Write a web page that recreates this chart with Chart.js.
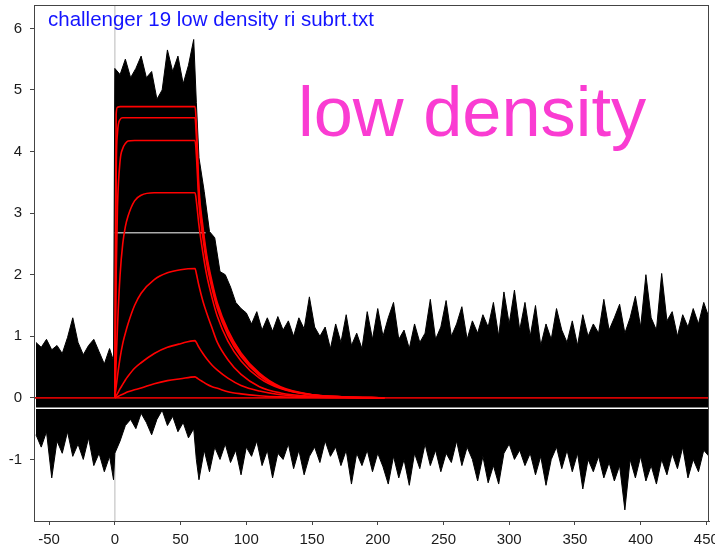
<!DOCTYPE html>
<html>
<head>
<meta charset="utf-8">
<script src="https://cdn.jsdelivr.net/npm/chart.js@4.4.1/dist/chart.umd.min.js"></script>
<style>
  body { margin: 0; background: #fff; }
  #wrap { position: relative; width: 715px; height: 550px; }
  .lbl { position: absolute; white-space: nowrap; font-family: "Liberation Sans", Arial, sans-serif; line-height: 1; }
  #file { left: 48px; top: 9px; font-size: 20.5px; color: #1414ff; }
  #big { left: 298px; top: 77px; font-size: 70.4px; color: #fa3cd2; }
</style>
</head>
<body>
<div id="wrap">
  <canvas id="chart" width="715" height="550"></canvas>
  <div class="lbl" id="file">challenger 19 low density ri subrt.txt</div>
  <div class="lbl" id="big">low density</div>
</div>
<script>
// time axis of the noisy sensorgram envelope (s)
const tNoise = [-60,-56,-52,-48,-44,-40,-36,-32,-28,-24,-20,-16,-12,-8,-4,-1,
  0,4,8,12,16,20,24,28,32,36,40,44,48,52,56,60,
  62,
  64,68,72,76,80,84,88,92,96,100,104,108,112,116,120,124,128,132,136,140,
  144,148,152,156,160,164,168,172,176,180,184,188,192,196,200,204,208,212,216,220,
  224,228,232,236,240,244,248,252,256,260,264,268,272,276,280,284,288,292,296,300,
  304,308,312,316,320,324,328,332,336,340,344,348,352,356,360,364,368,372,376,380,
  384,388,392,396,400,404,408,412,416,420,424,428,432,436,440,444,448,452];

// upper edge of the overlaid traces
const noiseTop = [0.9,0.82,0.95,0.78,0.85,0.72,0.98,1.3,0.9,0.7,0.85,0.95,0.75,0.55,0.8,0.6,
  5.35,5.25,5.5,5.2,5.35,5.55,5.2,5.3,4.85,5.0,5.65,5.3,5.55,5.1,5.4,5.82,
  4.8,
  3.9,3.35,2.7,2.6,2.05,2.0,1.8,1.55,1.45,1.38,
  1.2,1.4,1.1,1.3,1.08,1.32,1.1,1.25,1.0,1.3,
  1.12,1.64,1.15,1.0,1.15,0.8,1.2,0.9,1.35,0.85,
  1.05,0.8,1.4,0.95,1.45,1.0,1.3,1.55,0.95,1.1,
  0.8,1.2,0.9,1.05,1.6,0.95,1.15,1.58,1.0,1.2,
  1.48,0.95,1.25,1.05,1.35,1.15,1.55,1.0,1.72,1.2,
  1.75,1.1,1.55,1.0,1.5,0.85,1.2,0.95,1.45,1.1,
  0.9,1.25,0.85,1.35,1.0,1.2,1.05,1.6,1.1,1.3,
  1.52,1.05,1.3,1.65,1.15,2.0,1.3,1.1,2.02,1.25,
  1.4,1.0,1.35,1.15,1.45,1.2,1.55,1.3];

// lower edge of the overlaid traces
const noiseBottom = [-0.6,-0.8,-0.55,-1.3,-0.7,-0.9,-0.55,-0.95,-0.75,-1.0,-0.65,-1.1,-0.9,-1.2,-0.95,-1.33,
  -0.9,-0.7,-0.45,-0.35,-0.5,-0.25,-0.4,-0.6,-0.35,-0.2,-0.45,-0.3,-0.55,-0.4,-0.65,-0.5,
  -1.0,
  -1.33,-0.85,-1.2,-0.8,-1.0,-0.75,-1.05,-0.85,-1.25,-0.8,
  -0.95,-0.7,-1.1,-0.85,-1.3,-0.9,-1.0,-0.75,-1.15,-0.85,
  -1.25,-0.95,-0.8,-1.05,-0.7,-0.95,-0.8,-1.1,-0.85,-1.4,
  -0.9,-1.1,-0.85,-1.2,-0.9,-1.12,-1.4,-0.95,-1.3,-1.0,
  -1.42,-0.9,-1.15,-0.75,-1.1,-0.85,-1.2,-0.9,-1.05,-0.7,
  -1.1,-0.8,-1.0,-1.35,-0.95,-1.38,-1.1,-1.4,-0.9,-0.75,
  -1.0,-0.85,-1.1,-0.9,-1.25,-0.95,-1.42,-1.0,-0.8,-1.15,
  -0.85,-1.2,-0.9,-1.48,-1.0,-1.2,-0.95,-1.3,-1.05,-1.35,
  -1.1,-1.82,-1.0,-1.3,-0.95,-1.35,-1.1,-1.4,-1.0,-1.25,
  -0.9,-1.15,-0.8,-1.3,-1.0,-1.2,-0.85,-0.95];

// fitted curves (red)
const tFit = [0,1,2,4,6,8,10,15,20,30,40,50,61,62,64,67,70,74,78,86,96,110,126,150,175,205];
const fit1 = [0,4.6,4.72,4.73,4.73,4.73,4.73,4.73,4.73,4.73,4.73,4.73,4.73,4.45,3.4,2.78,2.3,1.88,1.54,1.1,0.73,0.4,0.18,0.05,0.015,0];
const fit2 = [0,3.6,4.3,4.52,4.55,4.55,4.55,4.55,4.55,4.55,4.55,4.55,4.55,4.25,3.3,2.7,2.25,1.83,1.5,1.06,0.7,0.38,0.17,0.05,0.015,0];
const fit3 = [0,2.0,3.1,3.85,4.05,4.13,4.17,4.18,4.18,4.18,4.18,4.18,4.18,3.95,3.15,2.6,2.17,1.77,1.45,1.02,0.67,0.36,0.16,0.05,0.015,0];
const fit4 = [0,0.6,1.15,2.0,2.5,2.78,2.95,3.2,3.29,3.33,3.33,3.33,3.33,3.2,2.8,2.35,1.98,1.62,1.32,0.92,0.6,0.32,0.15,0.045,0.012,0];
const fit5 = [0,0.18,0.35,0.65,0.88,1.05,1.2,1.5,1.7,1.92,2.03,2.08,2.1,2.02,1.82,1.57,1.37,1.13,0.9,0.62,0.38,0.18,0.08,0.025,0.008,0];
const fit6 = [0,0.035,0.07,0.15,0.22,0.29,0.35,0.48,0.57,0.72,0.82,0.88,0.93,0.9,0.82,0.72,0.63,0.53,0.45,0.32,0.2,0.11,0.05,0.015,0.005,0];
const fit7 = [0,0.01,0.02,0.04,0.06,0.08,0.1,0.13,0.16,0.23,0.28,0.31,0.34,0.33,0.3,0.26,0.22,0.18,0.155,0.1,0.065,0.035,0.016,0.005,0.002,0];

// baseline and reference lines
const lineT = [-61.5, 452];
const zeroY = [0, 0];
const refY = [-0.17, -0.17];
const markT = [0, 69];
const markY = [2.68, 2.68];

const xTicks = [-50,0,50,100,150,200,250,300,350,400,450];
const yTicks = [-1,0,1,2,3,4,5,6];

const pts = (xs, ys) => xs.map((x, i) => ({ x: x, y: ys[i] }));
const tickFont = { family: '"Liberation Sans", Arial, sans-serif', size: 15 };

const fitSets = [fit1, fit2, fit3, fit4, fit5, fit6, fit7].map(f => ({
  data: pts(tFit, f), borderColor: '#ff0000', borderWidth: 1.6,
  pointRadius: 0, fill: false, cubicInterpolationMode: 'monotone'
}));

const frame = {
  id: 'frame',
  beforeDatasetsDraw(chart) {
    const { ctx, chartArea: a, scales } = chart;
    const x0 = scales.x.getPixelForValue(0);
    ctx.save();
    ctx.strokeStyle = '#d0d0d0';
    ctx.lineWidth = 1.5;
    ctx.beginPath();
    ctx.moveTo(x0, a.top);
    ctx.lineTo(x0, a.bottom);
    ctx.stroke();
    ctx.restore();
  },
  afterDraw(chart) {
    const { ctx, chartArea: a } = chart;
    ctx.save();
    ctx.strokeStyle = '#444';
    ctx.lineWidth = 1;
    ctx.strokeRect(a.left + 0.5, a.top + 0.5, a.right - a.left - 1, a.bottom - a.top);
    ctx.restore();
  }
};

new Chart(document.getElementById('chart'), {
  type: 'line',
  data: {
    datasets: [
      ...fitSets,
      { data: pts(lineT, zeroY), borderColor: '#d40000', borderWidth: 1.6, pointRadius: 0, fill: false },
      { data: pts(lineT, refY), borderColor: '#ffffff', borderWidth: 1.5, pointRadius: 0, fill: false },
      { data: pts(markT, markY), borderColor: '#ffffff', borderWidth: 1, pointRadius: 0, fill: false },
      { data: pts(tNoise, noiseTop), borderColor: '#000', borderWidth: 1, backgroundColor: '#000', pointRadius: 0, fill: '+1', tension: 0 },
      { data: pts(tNoise, noiseBottom), borderColor: '#000', borderWidth: 1, pointRadius: 0, fill: false, tension: 0 }
    ]
  },
  options: {
    responsive: false,
    animation: false,
    devicePixelRatio: 1,
    layout: { padding: { top: 5, right: 6, left: 0, bottom: 0 } },
    plugins: { legend: { display: false }, tooltip: { enabled: false } },
    scales: {
      x: {
        type: 'linear', min: -61.5, max: 452,
        afterBuildTicks: s => { s.ticks = xTicks.map(v => ({ value: v })); },
        afterFit: s => { s.height = 29; s.paddingLeft = 0; s.paddingRight = 0; },
        ticks: { font: tickFont, color: '#1a1a1a', padding: 6, maxRotation: 0, autoSkip: false },
        grid: { drawOnChartArea: false, tickLength: 4, color: '#444' },
        border: { color: '#444' }
      },
      y: {
        type: 'linear', min: -2.0, max: 6.38,
        afterBuildTicks: s => { s.ticks = yTicks.map(v => ({ value: v })); },
        afterFit: s => { s.width = 34; s.paddingTop = 0; s.paddingBottom = 0; },
        ticks: { font: tickFont, color: '#1a1a1a', padding: 8, autoSkip: false },
        grid: { drawOnChartArea: false, tickLength: 4, color: '#444' },
        border: { color: '#444' }
      }
    }
  },
  plugins: [frame]
});
</script>
</body>
</html>
